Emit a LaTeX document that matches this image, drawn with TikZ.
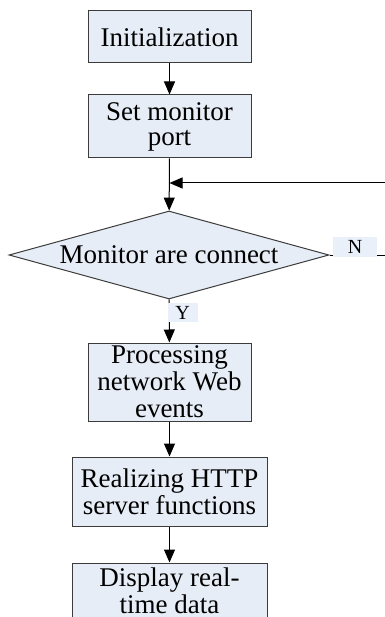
\documentclass[tikz,border=0pt]{standalone}
\usepackage{fontspec}
\setmainfont{Liberation Serif}
\usetikzlibrary{arrows.meta,shapes.geometric}

\definecolor{boxfill}{HTML}{E7EDF6}
\definecolor{lblfill}{HTML}{EAF0F9}
\definecolor{boxline}{HTML}{3C3C3C}

\tikzset{
  stepbox/.style={draw=boxline, fill=boxfill, line width=1pt, inner sep=0pt,
    align=center, font=\fontsize{27}{27}\selectfont},
  decision/.style={diamond, aspect=3.64, draw=boxline, fill=boxfill, line width=1pt, inner sep=0pt,
    font=\fontsize{27}{27}\selectfont},
  lbl/.style={fill=lblfill, inner ysep=3pt, font=\fontsize{20}{20}\selectfont},
  flow/.style={line width=1pt, -{Triangle[length=13pt,width=11pt]}}
}

\begin{document}
\begin{tikzpicture}[x=1pt, y=-1pt]
  \useasboundingbox (0,0) rectangle (384,617);
  \draw
    (169.5,37) node[stepbox, minimum width=163pt, minimum height=52pt] (init) {Initialization}
    (169.5,126.5) node[stepbox, minimum width=163pt, minimum height=63pt] (port) {Set monitor\\[-2pt] port}
    (169,255) node[decision, minimum width=320pt, minimum height=88pt] (conn) {Monitor are connect}
    (169.5,382) node[stepbox, minimum width=163pt, minimum height=78pt] (web) {Processing\\ network Web\\ events}
    (169.5,491.5) node[stepbox, minimum width=195pt, minimum height=69pt] (http) {Realizing HTTP\\ server functions}
    (169.5,591) node[stepbox, minimum width=195pt, minimum height=56pt] (show) {Display real-\\ time data};
  \coordinate (back) at (port.south |- 0,183);
  \begin{scope}[flow]
    \draw (init) to (port);
    \draw (port) to (conn);
    \draw (conn.east) -- node[lbl, pos=0, anchor=south west, xshift=3pt, yshift=-2pt, minimum width=44pt] {N} ++(62,0) |- (back);
    \draw (conn) -- node[lbl, pos=0, anchor=north west, xshift=-2pt, yshift=-3pt, minimum width=30pt] {Y} (web);
    \draw (web) to (http);
    \draw (http) to (show);
  \end{scope}
\end{tikzpicture}
\end{document}
